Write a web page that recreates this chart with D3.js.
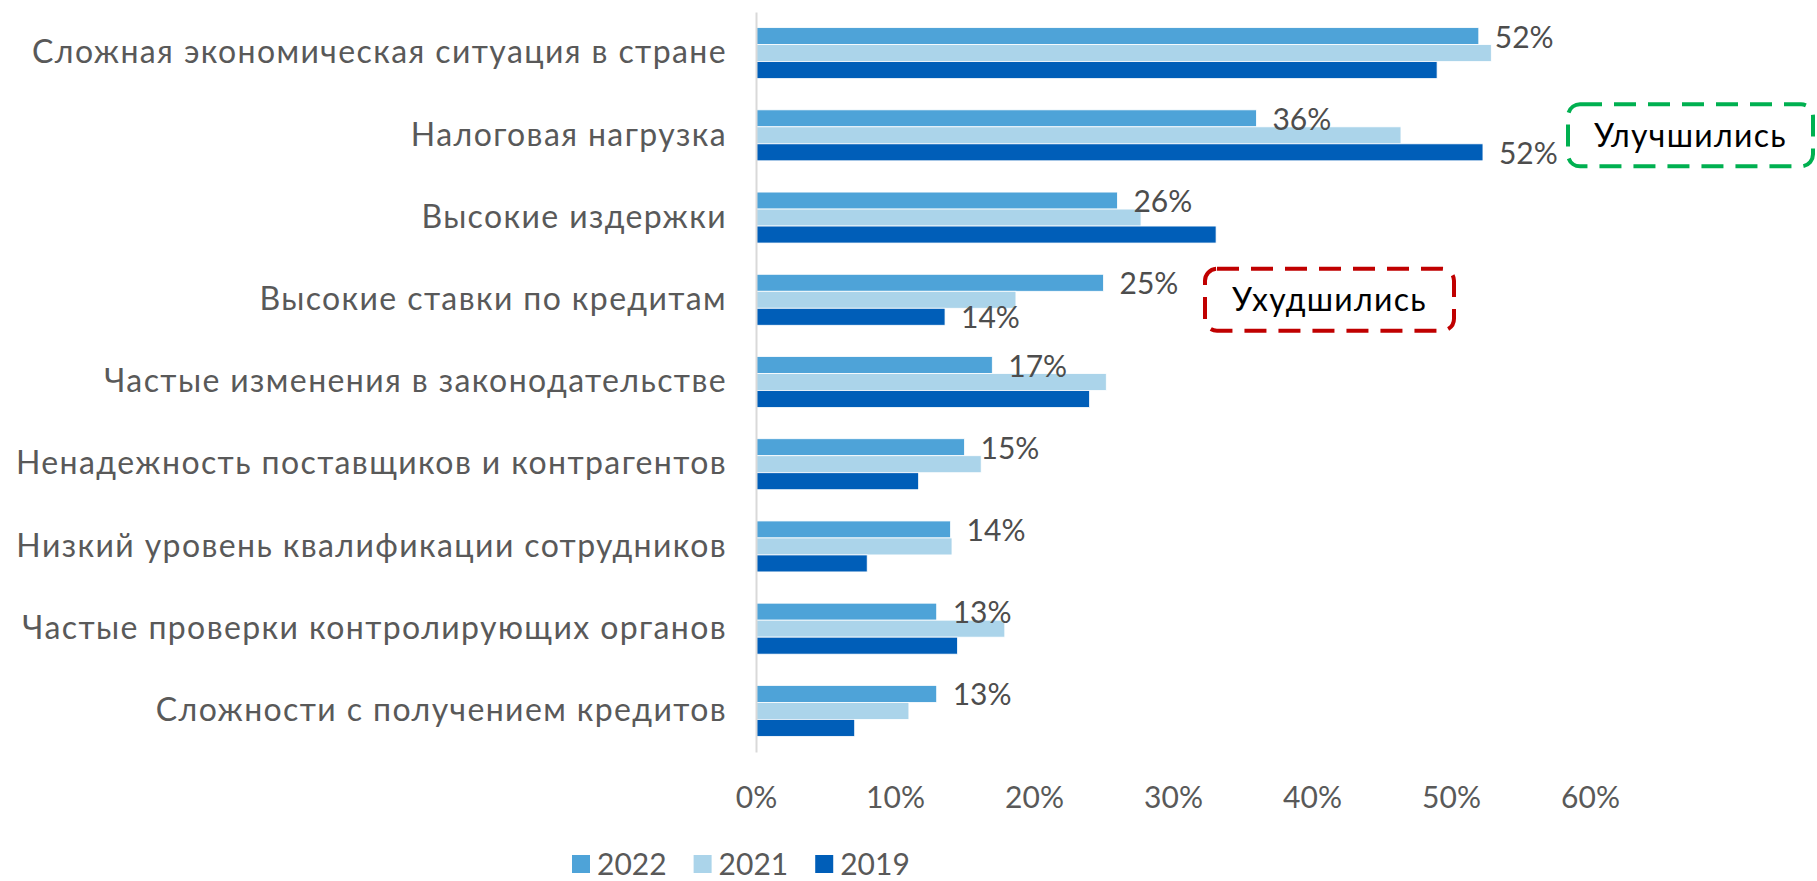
<!DOCTYPE html>
<html lang="ru">
<head>
    <meta charset="UTF-8">
    <title>Факторы, мешающие бизнесу</title>
    <script src="https://d3js.org/d3.v7.min.js"></script>
    <style>
        body {
            margin: 0;
            background-color: white;
        }
        text {
            font-family: "Lato", "Open Sans", sans-serif;
            fill: #595959;
        }
        .axis .domain {
            stroke: #d9d9d9;
            stroke-width: 2px;
        }
    </style>
</head>
<body>
    <script>
        // Data
        const categories = [
            "Сложная экономическая ситуация в стране",
            "Налоговая нагрузка",
            "Высокие издержки",
            "Высокие ставки по кредитам",
            "Частые изменения в законодательстве",
            "Ненадежность поставщиков и контрагентов",
            "Низкий уровень квалификации сотрудников",
            "Частые проверки контролирующих органов",
            "Сложности с получением кредитов"
        ];
        const years = ["2022", "2021", "2019"];
        const values2022 = [52, 36, 26, 25, 17, 15, 14, 13, 13];
        const values2021 = [52.9, 46.4, 27.7, 18.7, 25.2, 16.2, 14.1, 17.9, 11.0];
        const values2019 = [49.0, 52.3, 33.1, 13.6, 24.0, 11.7, 8.0, 14.5, 7.1];
        const labelled2019 = [1, 3];   // rows where the 2019 bar carries a label
        const xTicks = [0, 10, 20, 30, 40, 50, 60];
        const colors = ["#4ea3d8", "#abd4ea", "#005eb8"];

        const width = 1817;
        const height = 881;

        const svg = d3.select("body").append("svg")
            .attr("width", width)
            .attr("height", height);

        const x = d3.scaleLinear().domain([0, 60]).range([756, 1590]);
        const y = d3.scaleBand().domain(categories).range([12, 752])
            .paddingInner(0.38).paddingOuter(0.19);
        const ySub = d3.scaleBand().domain(years).range([0, y.bandwidth()]);
        const color = d3.scaleOrdinal().domain(years).range(colors);

        const series = [values2022, values2021, values2019];
        const rows = categories.map((c, i) => ({
            cat: c,
            bars: years.map((yr, k) => ({ year: yr, value: series[k][i] }))
        }));

        // Bars
        const group = svg.append("g").selectAll("g")
            .data(rows)
            .join("g")
            .attr("transform", d => "translate(0," + y(d.cat) + ")");

        group.selectAll("rect")
            .data(d => d.bars)
            .join("rect")
            .attr("x", x(0))
            .attr("y", d => ySub(d.year))
            .attr("width", d => x(d.value) - x(0))
            .attr("height", ySub.bandwidth())
            .attr("fill", d => color(d.year))
            .attr("stroke", "white")
            .attr("stroke-width", 0.8);

        // Category axis
        const yAxis = svg.append("g")
            .attr("class", "axis")
            .attr("transform", "translate(" + x(0) + ",0)")
            .call(d3.axisLeft(y).tickSize(0).tickSizeOuter(0).tickPadding(29));
        yAxis.selectAll("text")
            .style("font-size", "32px")
            .style("letter-spacing", "1.4px")
            .style("fill", "#595959");

        // Value axis labels
        const xAxis = svg.append("g")
            .attr("transform", "translate(0,752)")
            .call(d3.axisBottom(x).tickValues(xTicks).tickSize(0).tickFormat(d => d + "%"));
        xAxis.select(".domain").remove();
        xAxis.selectAll("text")
            .attr("y", 45)
            .attr("dy", "0.35em")
            .style("font-size", "30px")
            .style("fill", "#595959");

        // Data labels
        const labels = [];
        rows.forEach((r, i) => {
            labels.push({ cat: r.cat, year: "2022", value: values2022[i] });
            if (labelled2019.includes(i)) {
                labels.push({ cat: r.cat, year: "2019", value: values2019[i] });
            }
        });
        svg.append("g").selectAll("text")
            .data(labels)
            .join("text")
            .attr("x", d => x(d.value) + 16)
            .attr("y", d => y(d.cat) + ySub(d.year) + ySub.bandwidth() / 2 + 1)
            .attr("dy", "0.35em")
            .style("font-size", "30px")
            .style("fill", "#4d4d4d")
            .text(d => Math.round(d.value) + "%");

        // Annotation boxes
        const notes = [
            { text: "Улучшились", cat: categories[1], x: 1568, w: 245, stroke: "#00b050" },
            { text: "Ухудшились", cat: categories[3], x: 1205, w: 249, stroke: "#c00000" }
        ];
        const note = svg.append("g").selectAll("g")
            .data(notes)
            .join("g")
            .attr("transform", d => "translate(" + d.x + "," + (y(d.cat) + y.bandwidth() / 2 - 31) + ")");
        note.append("rect")
            .attr("width", d => d.w)
            .attr("height", 62)
            .attr("rx", 12)
            .attr("fill", "none")
            .attr("stroke", d => d.stroke)
            .attr("stroke-width", 4)
            .attr("stroke-dasharray", "22 12");
        note.append("text")
            .attr("x", d => d.w / 2)
            .attr("y", 31)
            .attr("dy", "0.35em")
            .attr("text-anchor", "middle")
            .style("font-size", "32px")
            .style("letter-spacing", "1.3px")
            .style("fill", "#000")
            .text(d => d.text);

        // Legend
        const legend = svg.append("g").attr("transform", "translate(572,864)");
        let lx = 0;
        years.forEach(yr => {
            const item = legend.append("g").attr("transform", "translate(" + lx + ",0)");
            item.append("rect")
                .attr("y", -9)
                .attr("width", 18)
                .attr("height", 18)
                .attr("fill", color(yr));
            const t = item.append("text")
                .attr("x", 25)
                .attr("dy", "0.35em")
                .style("font-size", "30px")
                .text(yr);
            lx += 25 + t.node().getComputedTextLength() + 27;
        });
    </script>
</body>
</html>
